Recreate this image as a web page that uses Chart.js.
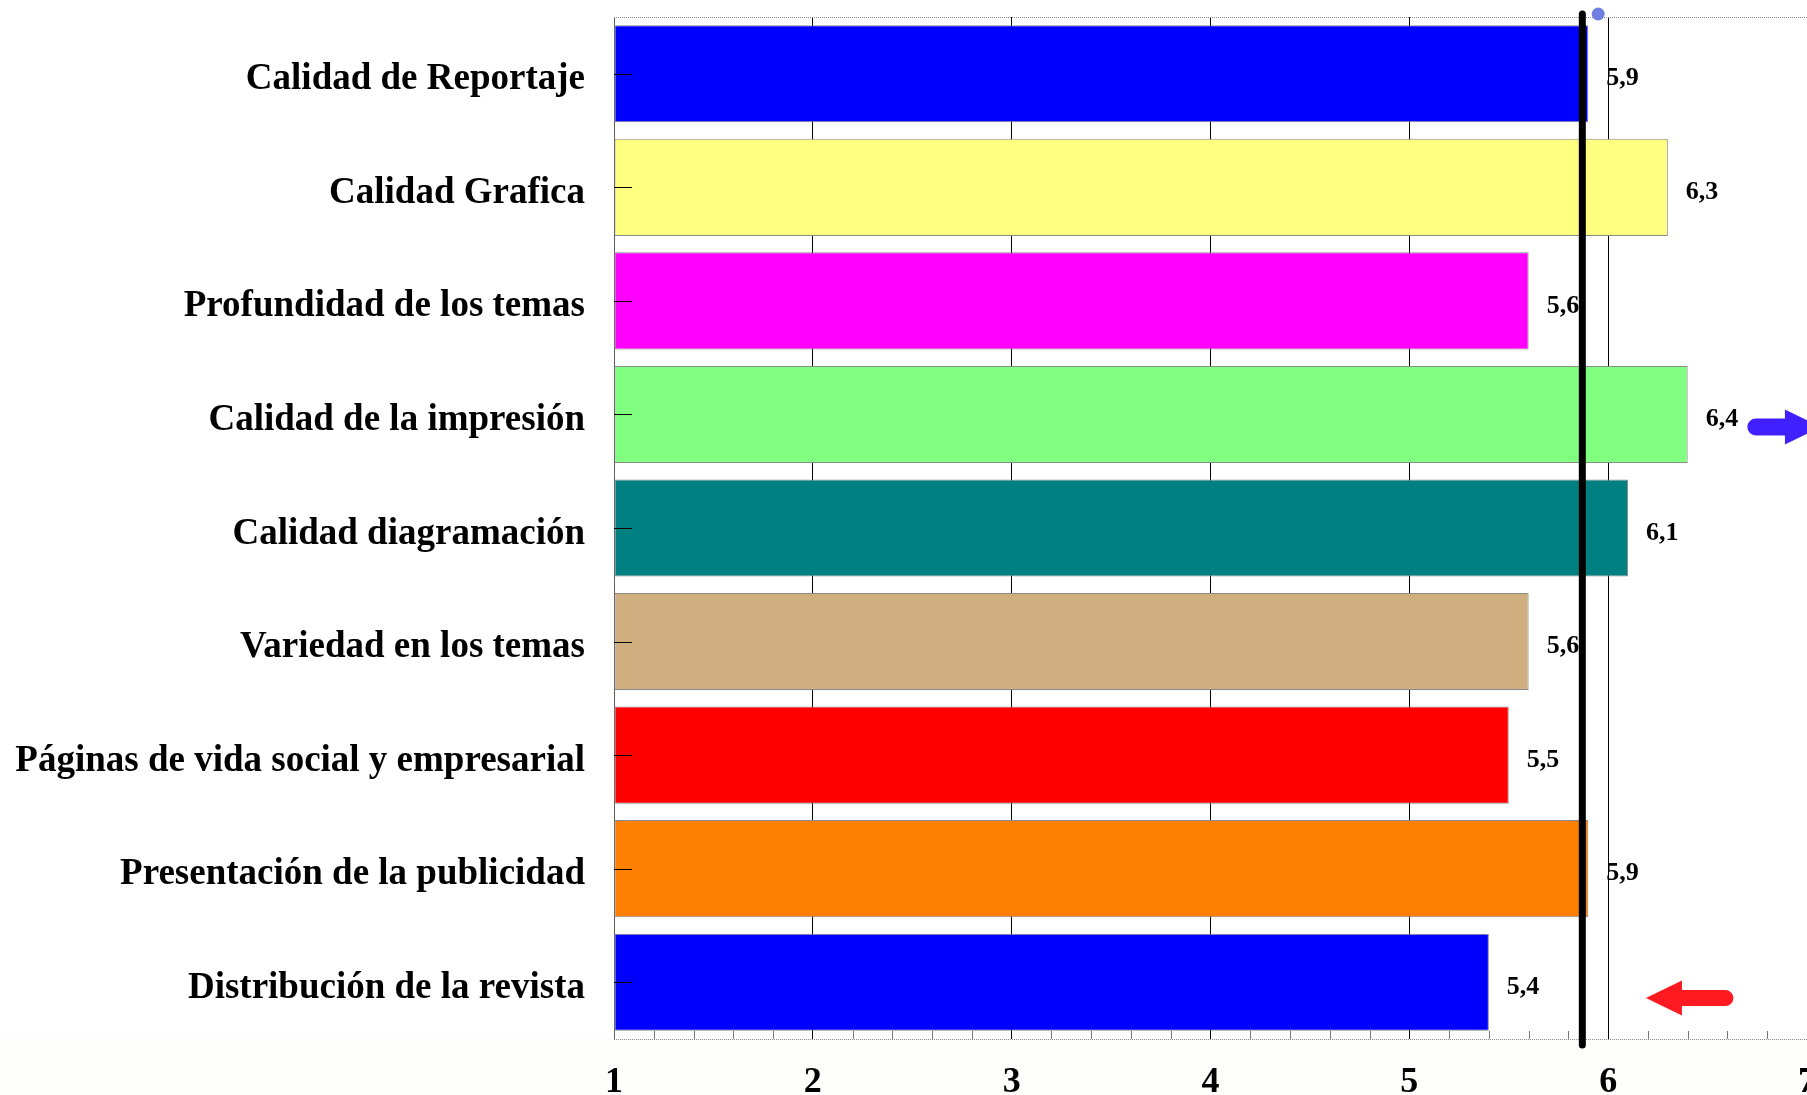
<!DOCTYPE html>
<html><head><meta charset="utf-8">
<script src="https://cdn.jsdelivr.net/npm/chart.js@4.4.1/dist/chart.umd.min.js"></script>
<style>
html,body{margin:0;padding:0;background:#ffffff;overflow:hidden}
#wrap{position:relative;width:1807px;height:1095px}
canvas{display:block}
</style></head><body><div id="wrap"><canvas id="c" width="1807" height="1095"></canvas></div>
<script>
// ---- data ----
const categories = [
  'Calidad de Reportaje',
  'Calidad Grafica',
  'Profundidad de los temas',
  'Calidad de la impresión',
  'Calidad diagramación',
  'Variedad en los temas',
  'Páginas de vida social y empresarial',
  'Presentación de la publicidad',
  'Distribución de la revista'
];
const values = [5.9, 6.3, 5.6, 6.4, 6.1, 5.6, 5.5, 5.9, 5.4];
const valueLabels = values.map(v => v.toFixed(1).replace('.', ','));
const xTickLabels = ['1', '2', '3', '4', '5', '6', '7'];
const averageValue = 5.87;
const dotValue = 5.95;
const blueArrow = { category: 3.11, tail: 6.70, tip: 7.07 };
const redArrow = { category: 8.14, tail: 6.63, tip: 6.19 };

// ---- styles ----
const barColors = ['#0000ff', '#ffff80', '#ff00ff', '#80ff80', '#008080', '#cfaf80', '#ff0000', '#ff8000', '#0000ff'];
const SERIF = "'Liberation Serif', 'Times New Roman', serif";

function drawArrow(ctx, xTail, xTip, yc, shaft, headHalf, headLen, color) {
  const dir = Math.sign(xTip - xTail);
  const xBase = xTip - dir * headLen;
  ctx.save();
  ctx.strokeStyle = color; ctx.fillStyle = color;
  ctx.lineWidth = shaft; ctx.lineCap = 'round';
  ctx.beginPath();
  ctx.moveTo(xTail + dir * shaft / 2, yc);
  ctx.lineTo(xBase, yc);
  ctx.stroke();
  ctx.beginPath();
  ctx.moveTo(xBase, yc - headHalf);
  ctx.lineTo(xTip, yc);
  ctx.lineTo(xBase, yc + headHalf);
  ctx.closePath();
  ctx.fill();
  ctx.restore();
}

const overlay = {
  id: 'overlay',
  beforeDraw(chart) {
    const { ctx, chartArea: ca } = chart;
    ctx.save();
    ctx.fillStyle = '#ffffff';
    ctx.fillRect(0, 0, chart.width, chart.height);
    ctx.fillStyle = '#fdfdfc';
    ctx.fillRect(0, ca.bottom, chart.width, chart.height - ca.bottom);
    ctx.restore();
  },
  beforeDatasetsDraw(chart) {
    const { ctx, chartArea: ca } = chart;
    ctx.save();
    ctx.strokeStyle = '#8a8a8a'; ctx.lineWidth = 1; ctx.setLineDash([1, 1]);
    ctx.beginPath(); ctx.moveTo(ca.left, ca.top + 0.5); ctx.lineTo(ca.right, ca.top + 0.5); ctx.stroke();
    ctx.restore();
  },
  afterDatasetsDraw(chart) {
    const { ctx, chartArea: ca, scales: { x, y } } = chart;
    ctx.save();
    // bottom axis line (dotted grey)
    ctx.strokeStyle = '#8a8a8a'; ctx.lineWidth = 1; ctx.setLineDash([1, 1]);
    ctx.beginPath(); ctx.moveTo(ca.left, ca.bottom + 0.5); ctx.lineTo(ca.right, ca.bottom + 0.5); ctx.stroke();
    ctx.setLineDash([]);
    // minor ticks along bottom axis
    ctx.strokeStyle = '#777'; ctx.lineWidth = 1;
    for (let k = 1; k < 30; k++) {
      if (k % 5 === 0) continue;
      const px = Math.round(x.getPixelForValue(1 + k * 0.2)) + 0.5;
      ctx.beginPath(); ctx.moveTo(px, ca.bottom); ctx.lineTo(px, ca.bottom - 8); ctx.stroke();
    }
    // inward category ticks
    ctx.strokeStyle = '#000';
    categories.forEach((c, i) => {
      const py = Math.round(y.getPixelForValue(i)) + 0.5;
      ctx.beginPath(); ctx.moveTo(ca.left, py); ctx.lineTo(ca.left + 18, py); ctx.stroke();
    });
    // value labels
    ctx.fillStyle = '#000';
    ctx.font = 'bold 26px ' + SERIF;
    ctx.textAlign = 'left'; ctx.textBaseline = 'middle';
    const meta = chart.getDatasetMeta(0);
    meta.data.forEach((bar, i) => {
      ctx.fillText(valueLabels[i], bar.x + 18, bar.y + 5);
    });
    // average line
    const ax = x.getPixelForValue(averageValue);
    ctx.strokeStyle = '#000'; ctx.lineWidth = 7; ctx.lineCap = 'round';
    ctx.beginPath(); ctx.moveTo(ax, ca.top - 3); ctx.lineTo(ax, ca.bottom + 6); ctx.stroke();
    // dot
    ctx.fillStyle = '#7080e0';
    ctx.beginPath(); ctx.arc(x.getPixelForValue(dotValue), ca.top - 3, 6.5, 0, Math.PI * 2); ctx.fill();
    ctx.restore();
    // arrows
    drawArrow(ctx, x.getPixelForValue(blueArrow.tail), x.getPixelForValue(blueArrow.tip),
      y.getPixelForValue(blueArrow.category), 17, 17.5, 36, '#4020ff');
    drawArrow(ctx, x.getPixelForValue(redArrow.tail), x.getPixelForValue(redArrow.tip),
      y.getPixelForValue(redArrow.category), 16, 17.5, 36, '#ff1a22');
  }
};

new Chart(document.getElementById('c'), {
  type: 'bar',
  data: {
    labels: categories,
    datasets: [{
      data: values,
      backgroundColor: barColors,
      borderColor: '#8a8a8a',
      borderWidth: 1,
      borderSkipped: false,
      base: 1,
      barPercentage: 0.855,
      categoryPercentage: 1.0
    }]
  },
  options: {
    indexAxis: 'y',
    responsive: false,
    devicePixelRatio: 1,
    animation: false,
    layout: { padding: { top: 17, left: 0, right: 0, bottom: 0 } },
    plugins: { legend: { display: false }, tooltip: { enabled: false } },
    scales: {
      x: {
        type: 'linear', min: 1, max: 7,
        ticks: {
          stepSize: 1, color: '#000', padding: 22,
          font: { family: SERIF, size: 36, weight: 'bold' },
          callback: (v) => xTickLabels[Math.round(v) - 1]
        },
        grid: {
          drawTicks: false, lineWidth: 1,
          color: (c) => (c.tick && c.tick.value === 1) ? 'rgba(0,0,0,0)' : '#000'
        },
        border: { display: false },
        afterFit: (s) => { s.height = 56; s.paddingLeft = 0; s.paddingRight = 0; }
      },
      y: {
        ticks: {
          color: '#000', padding: 29, labelOffset: 6,
          font: { family: SERIF, size: 37, weight: 'bold' }
        },
        grid: { display: false, drawTicks: false },
        border: { display: true, color: '#606060', width: 1 },
        afterFit: (s) => { s.width = 614; s.paddingTop = 0; s.paddingBottom = 0; }
      }
    }
  },
  plugins: [overlay]
});
</script></body></html>
